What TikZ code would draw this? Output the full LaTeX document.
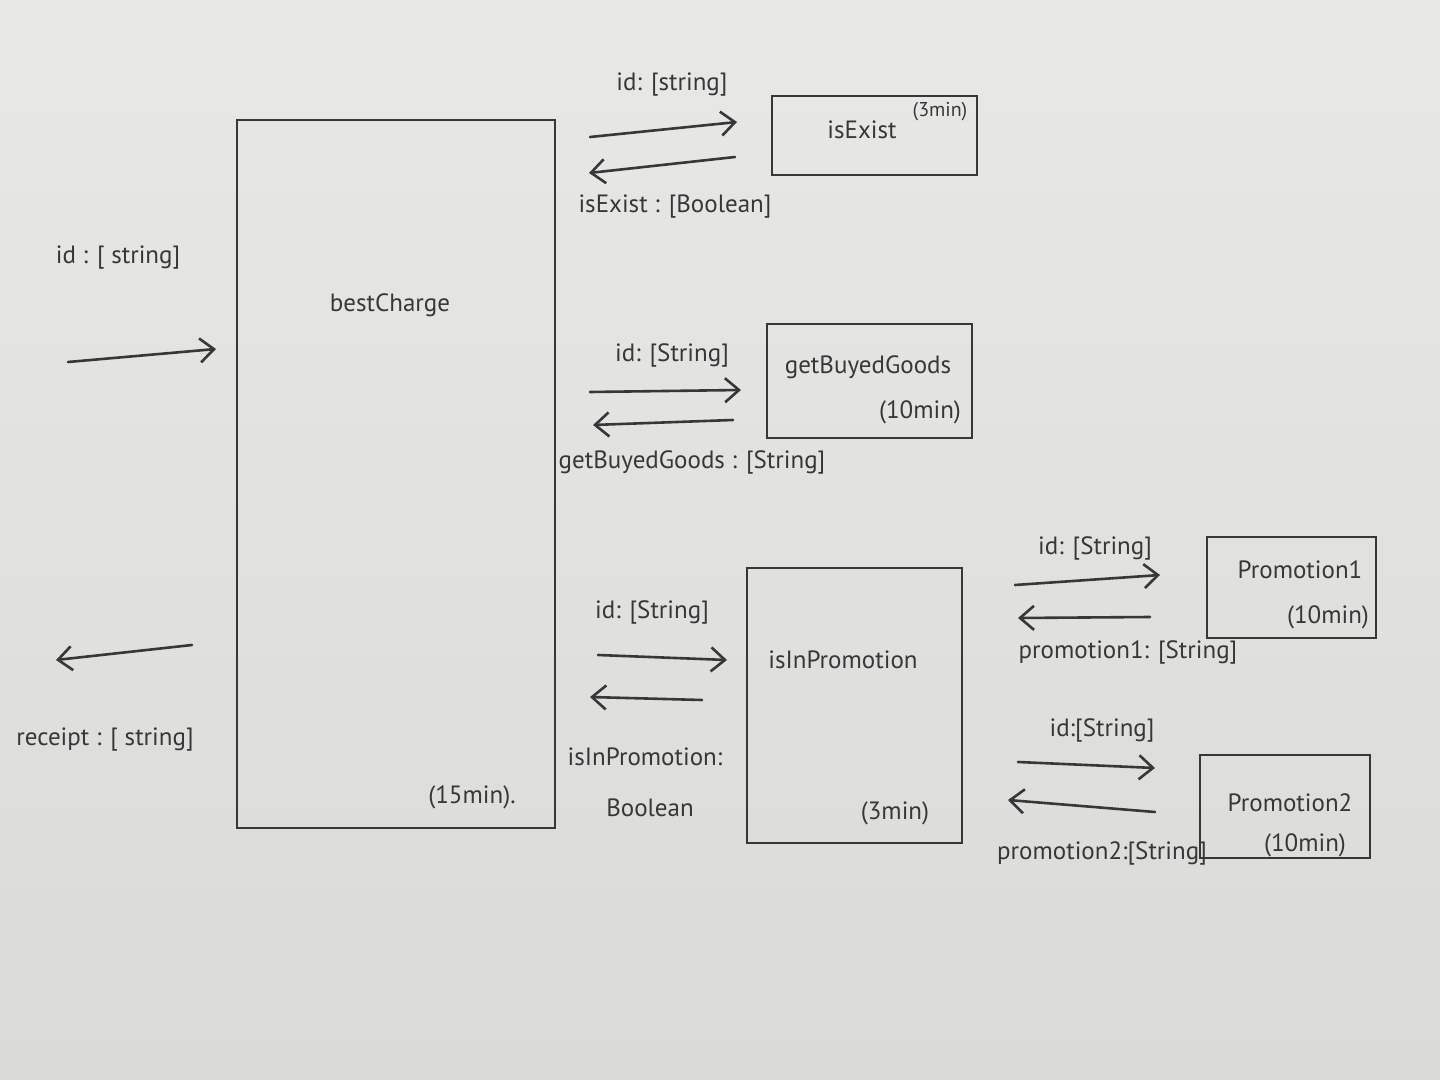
\documentclass[tikz,border=0pt]{standalone}
\usepackage{fontspec}
\setmainfont{PT Sans}
\usetikzlibrary{arrows.meta,fit,calc}
\definecolor{paper}{RGB}{218,218,216}
\definecolor{paperhi}{RGB}{232,232,230}
\definecolor{ink}{RGB}{55,55,55}
\tikzset{
  box/.style={draw=ink, line width=1.4pt, inner sep=0pt, fill=none},
  lbl/.style={text=ink, font=\fontsize{12.5}{14}\selectfont, inner sep=1pt},
  sml/.style={text=ink, font=\fontsize{10}{12}\selectfont, inner sep=1pt},
  flow/.style={draw=ink, line width=1.3pt, line cap=round,
    -{Straight Barb[length=7pt,width=12pt,line width=1.3pt]}},
}
\begin{document}
\begin{tikzpicture}[x=0.5pt,y=-0.5pt]
\useasboundingbox (0,0) rectangle (1440,1080);
\shade[top color=paperhi, bottom color=paper] (0,0) rectangle (1440,1080);

% boxes
\node[box, fit={(237,120) (555,828)}] (bc) {};
\node[box, fit={(772,96) (977,175)}] (ie) {};
\node[box, fit={(767,324) (972,438)}] (gb) {};
\node[box, fit={(747,568) (962,843)}] (ip) {};
\node[box, fit={(1207,537) (1376,638)}] (p1) {};
\node[box, fit={(1200,755) (1370,858)}] (p2) {};

% box texts
\node[lbl] (bct) at (390,305) {bestCharge};
\node[lbl] (bcm) at (472,797) {(15min).};
\node[lbl] (iet) at (862,130) {isExist};
\node[sml] (iem) at (940,112) {(3min)};
\node[lbl] (gbt) at (868,367) {getBuyedGoods};
\node[lbl] (gbm) at (920,412) {(10min)};
\node[lbl] (ipt) at (843,660) {isInPromotion};
\node[lbl] (ipm) at (895,813) {(3min)};
\node[lbl] (p1t) at (1300,570) {Promotion1};
\node[lbl] (p1m) at (1328,617) {(10min)};
\node[lbl] (p2t) at (1290,803) {Promotion2};
\node[lbl] (p2m) at (1305,845) {(10min)};

% main input / output
\coordinate (a1s) at (68,362); \coordinate (a1e) at (216,349);
\draw[flow] (a1s) -- (a1e);
\node[lbl] (l1) at (118,258) {id : [ string]};
\coordinate (a2s) at (192,645); \coordinate (a2e) at (56,660);
\draw[flow] (a2s) -- (a2e);
\node[lbl] (l2) at (105,740) {receipt : [ string]};

% isExist
\coordinate (b1s) at (590,137); \coordinate (b1e) at (737,122);
\draw[flow] (b1s) -- (b1e);
\node[lbl] (lb1) at (672,85) {id: [string]};
\coordinate (b2s) at (735,157); \coordinate (b2e) at (589,173);
\draw[flow] (b2s) -- (b2e);
\node[lbl] (lb2) at (675,207) {isExist : [Boolean]};

% getBuyedGoods
\coordinate (c1s) at (590,392); \coordinate (c1e) at (741,390);
\draw[flow] (c1s) -- (c1e);
\node[lbl] (lc1) at (672,355) {id: [String]};
\coordinate (c2s) at (733,420); \coordinate (c2e) at (593,425);
\draw[flow] (c2s) -- (c2e);
\node[lbl] (lc2) at (692,462) {getBuyedGoods : [String]};

% isInPromotion
\coordinate (d1s) at (598,655); \coordinate (d1e) at (727,660);
\draw[flow] (d1s) -- (d1e);
\node[lbl] (ld1) at (652,612) {id: [String]};
\coordinate (d2s) at (702,700); \coordinate (d2e) at (590,697);
\draw[flow] (d2s) -- (d2e);
\node[lbl] (ld2) at (645,757) {isInPromotion:};
\node[lbl] (ld3) at (650,808) {Boolean};

% promotion1
\coordinate (e1s) at (1015,585); \coordinate (e1e) at (1160,575);
\draw[flow] (e1s) -- (e1e);
\node[lbl] (le1) at (1095,548) {id: [String]};
\coordinate (e2s) at (1150,617); \coordinate (e2e) at (1018,618);
\draw[flow] (e2s) -- (e2e);
\node[lbl] (le2) at (1128,652) {promotion1: [String]};

% promotion2
\coordinate (f1s) at (1018,762); \coordinate (f1e) at (1155,768);
\draw[flow] (f1s) -- (f1e);
\node[lbl] (lf1) at (1102,730) {id:[String]};
\coordinate (f2s) at (1155,812); \coordinate (f2e) at (1008,800);
\draw[flow] (f2s) -- (f2e);
\node[lbl] (lf2) at (1102,853) {promotion2:[String]};
\end{tikzpicture}
\end{document}
